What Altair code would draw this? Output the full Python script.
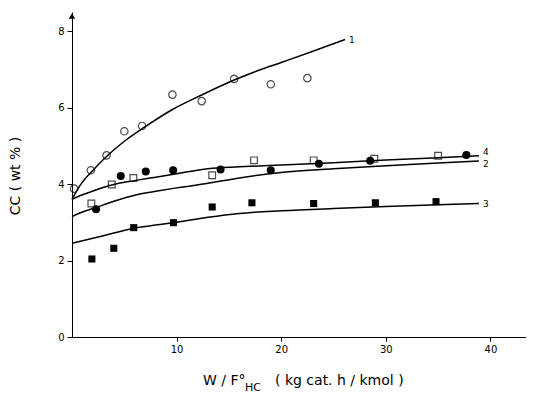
import altair as alt
import pandas as pd

# ---- data ----
# curve 1: open circles
s1_x = [0.2, 1.8, 3.3, 5.0, 6.7, 9.6, 12.4, 15.5, 19.0, 22.5]
s1_y = [3.88, 4.36, 4.75, 5.38, 5.52, 6.34, 6.17, 6.75, 6.61, 6.77]
# curve 2: open squares
s2_x = [1.85, 3.8, 5.87, 13.4, 17.4, 23.1, 28.9, 35.0]
s2_y = [3.49, 3.99, 4.16, 4.23, 4.62, 4.62, 4.66, 4.74]
# curve 3: filled squares
s3_x = [1.9, 4.0, 5.9, 9.7, 13.4, 17.2, 23.1, 29.0, 34.8]
s3_y = [2.04, 2.32, 2.86, 2.99, 3.40, 3.51, 3.49, 3.51, 3.54]
# curve 4: filled circles
s4_x = [2.3, 4.66, 7.05, 9.67, 14.2, 19.0, 23.6, 28.5, 37.7]
s4_y = [3.34, 4.21, 4.33, 4.36, 4.38, 4.36, 4.53, 4.61, 4.76]

# fitted model curves
c1_x = [0, 0.5, 1.0, 1.9, 3.3, 5.0, 7.0, 9.6, 12.4, 15.5, 17.8, 20.0, 22.5, 26.1]
c1_y = [3.6, 3.85, 4.05, 4.33, 4.72, 5.12, 5.5, 5.95, 6.33, 6.72, 6.97, 7.18, 7.42, 7.78]
c2_x = [0, 1, 2, 4, 6, 8, 10, 13, 16, 20, 25, 30, 35, 38.9]
c2_y = [3.15, 3.27, 3.36, 3.55, 3.71, 3.81, 3.9, 4.02, 4.16, 4.3, 4.4, 4.48, 4.55, 4.6]
c3_x = [0, 2, 4, 6, 8, 10, 13, 16, 20, 25, 30, 35, 38.9]
c3_y = [2.45, 2.58, 2.72, 2.85, 2.93, 3.0, 3.13, 3.23, 3.3, 3.36, 3.41, 3.46, 3.49]
c4_x = [0, 1, 2, 4, 6, 8, 10, 13, 16, 20, 25, 30, 35, 38.9]
c4_y = [3.6, 3.72, 3.82, 3.99, 4.09, 4.18, 4.27, 4.4, 4.45, 4.5, 4.56, 4.63, 4.69, 4.74]

curve_names = ["1", "2", "3", "4"]
label_dy = [0, 3, 0, -4]

x_ticks = [10, 20, 30, 40]
y_ticks = [0, 2, 4, 6, 8]

x_title_parts = ["W / F°", "HC", "( kg cat. h / kmol )"]
y_title = "CC ( wt % )"

FONT = "DejaVu Sans"
W, H = 454, 325
XMAX = 43.4
YMAX = 8.5

xs = alt.Scale(domain=[0, XMAX], nice=False, zero=False)
ys = alt.Scale(domain=[0, YMAX], nice=False)

curves = pd.concat([
    pd.DataFrame({"x": cx, "y": cy, "c": n})
    for cx, cy, n in zip([c1_x, c2_x, c3_x, c4_x], [c1_y, c2_y, c3_y, c4_y], curve_names)
])
labels = pd.DataFrame({
    "x": [c1_x[-1], c2_x[-1], c3_x[-1], c4_x[-1]],
    "y": [c1_y[-1], c2_y[-1], c3_y[-1], c4_y[-1]],
    "c": curve_names,
})
p1 = pd.DataFrame({"x": s1_x, "y": s1_y})
p2 = pd.DataFrame({"x": s2_x, "y": s2_y})
p3 = pd.DataFrame({"x": s3_x, "y": s3_y})
p4 = pd.DataFrame({"x": s4_x, "y": s4_y})

X = alt.X("x:Q", scale=xs, axis=alt.Axis(values=x_ticks, title=None, grid=False,
                                          tickSize=4, labelPadding=3, labelFontSize=10,
                                          labelFont=FONT, domainColor="black", tickColor="black",
                                          labelColor="black"))
Y = alt.Y("y:Q", scale=ys, axis=alt.Axis(values=y_ticks, title=None, grid=False,
                                          tickSize=5, labelPadding=3, labelFontSize=10,
                                          labelFont=FONT, domainColor="black", tickColor="black",
                                          labelColor="black"))

lines = alt.Chart(curves).mark_line(color="black", strokeWidth=1.5, interpolate="monotone").encode(
    x=X, y=Y, detail="c:N")

open_c = alt.Chart(p1).mark_point(shape="circle", filled=False, color="black", size=55, strokeWidth=1.2).encode(
    x="x:Q", y="y:Q")
open_s = alt.Chart(p2).mark_point(shape="square", filled=False, color="black", size=45, strokeWidth=1.2).encode(
    x="x:Q", y="y:Q")
fill_s = alt.Chart(p3).mark_point(shape="square", filled=True, color="black", size=50, opacity=1).encode(
    x="x:Q", y="y:Q")
fill_c = alt.Chart(p4).mark_point(shape="circle", filled=True, color="black", size=64, opacity=1).encode(
    x="x:Q", y="y:Q")

label_layers = []
for name, dy in zip(curve_names, label_dy):
    label_layers.append(
        alt.Chart(labels).transform_filter(alt.datum.c == name).mark_text(
            align="left", baseline="middle", dx=4, dy=dy, font=FONT, fontSize=9, color="black"
        ).encode(x="x:Q", y="y:Q", text="c:N")
    )

arrow = alt.Chart(pd.DataFrame({"a": [0]})).mark_point(shape="triangle-up", filled=True, color="black",
                                                         size=40, opacity=1).encode(
    x=alt.value(0), y=alt.value(4))

title_parts = pd.DataFrame({
    "t": x_title_parts,
    "px": [131, 173, 203],
    "py": [373, 379, 373],
    "fs": [14, 11, 14],
})
xtitle = alt.Chart(title_parts).mark_text(align="left", baseline="alphabetic", font=FONT,
                                          color="black").encode(
    x=alt.X("px:Q", scale=None), y=alt.Y("py:Q", scale=None), text="t:N",
    size=alt.Size("fs:Q", scale=None, legend=None))

ytitle = alt.Chart(pd.DataFrame({"t": [y_title]})).mark_text(
    angle=270, align="center", baseline="middle", font=FONT, fontSize=14, color="black").encode(
    x=alt.value(-56), y=alt.value(164), text="t:N")

chart = alt.layer(lines, open_c, open_s, fill_s, fill_c, *label_layers, arrow, xtitle, ytitle).properties(
    width=W, height=H,
    autosize=alt.AutoSizeParams(type="none"),
    padding={"left": 64, "top": 4, "right": 0, "bottom": 58},
    background="white",
).configure_view(stroke=None)

chart.save("out.html", embed_options={"renderer": "svg", "actions": False})
